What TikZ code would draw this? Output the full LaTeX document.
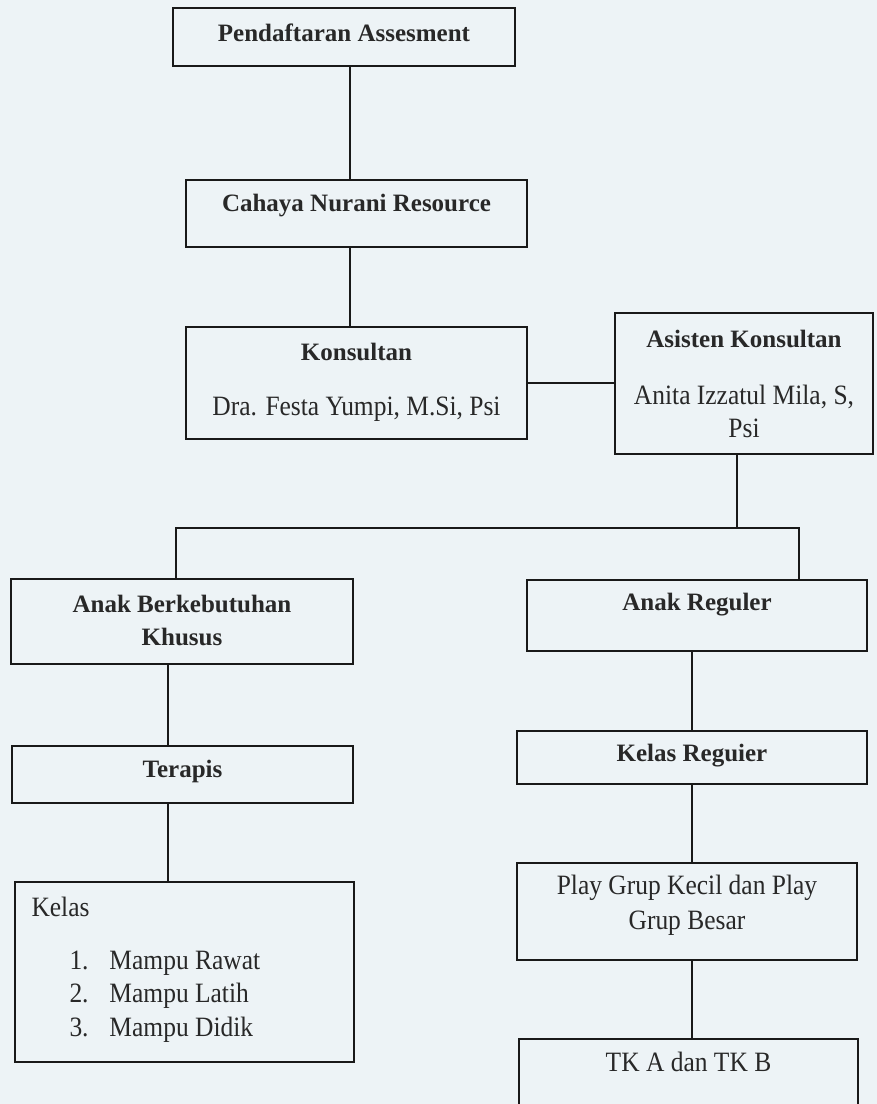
\documentclass[tikz,border=0pt]{standalone}
\usepackage{fontspec}
\setmainfont{Liberation Serif}
\newfontfamily\narrowserif{Liberation Serif}[FakeStretch=0.91]
\usepackage{xcolor}
\usepackage{tikz}
\usetikzlibrary{positioning}
\definecolor{paper}{RGB}{237,243,246}
\definecolor{inkgray}{RGB}{40,40,40}
\definecolor{linegray}{RGB}{25,25,25}

\tikzset{
  orgbox/.style={draw=linegray, line width=1.4pt, inner sep=0pt},
  titletext/.style={font=\fontsize{25}{30}\selectfont\bfseries, text=inkgray, inner sep=0pt, align=center},
  plaintext/.style={font=\narrowserif\fontsize{28}{33}\selectfont, text=inkgray, inner sep=0pt, align=center},
  link/.style={draw=linegray, line width=1.2pt},
}

\begin{document}
\begin{tikzpicture}[x=1pt, y=-1pt]
  \clip (0,0) rectangle (877,1104);
  \fill[paper] (0,0) rectangle (877,1104);

  % top chain
  \node[orgbox, minimum width=342pt, minimum height=58pt] (daftar) at (344,37) {};
  \node[titletext, yshift=4pt] (daftar-t) at (daftar.center) {Pendaftaran Assesment};
  \node[orgbox, minimum width=341pt, minimum height=67pt] (cnr) at (356.5,213.5) {};
  \node[titletext, yshift=8pt] (cnr-t) at (cnr.center) {Cahaya Nurani Resource};
  \node[orgbox, minimum width=341pt, minimum height=112pt] (kons) at (356.5,383) {};
  \node[titletext, yshift=31pt] (kons-t) at (kons.center) {Konsultan};
  \node[plaintext, yshift=-26pt] (kons-n) at (kons.center) {Dra. Festa Yumpi, M.Si, Psi};
  \node[orgbox, minimum width=258pt, minimum height=141pt] (asis) at (744,383.5) {};
  \node[titletext, yshift=44.5pt] (asis-t) at (asis.center) {Asisten Konsultan};
  \node[plaintext, yshift=-28pt] (asis-n) at (asis.center) {Anita Izzatul Mila, S,\\Psi};

  % left column
  \node[orgbox, minimum width=342pt, minimum height=85pt] (abk) at (182,621.5) {};
  \node[titletext, yshift=1pt, font=\fontsize{25}{33}\selectfont\bfseries] (abk-t) at (abk.center) {Anak Berkebutuhan\\Khusus};
  \node[orgbox, minimum width=341pt, minimum height=57pt] (terapis) at (182.5,774.5) {};
  \node[titletext, yshift=3.5pt] (terapis-t) at (terapis.center) {Terapis};
  \node[orgbox, minimum width=339pt, minimum height=180pt] (kelas) at (184.5,972) {};
  \node[plaintext, anchor=west, xshift=17pt, yshift=65pt] (kelas-t) at (kelas.west) {Kelas};
  \node[plaintext, align=left, anchor=west, xshift=55pt, yshift=-24.5pt,
        font=\narrowserif\fontsize{28}{33.5}\selectfont] (kelas-l) at (kelas.west)
    {\makebox[40pt][l]{1.}Mampu Rawat\\\makebox[40pt][l]{2.}Mampu Latih\\\makebox[40pt][l]{3.}Mampu Didik};

  % right column
  \node[orgbox, minimum width=340pt, minimum height=71pt] (areg) at (697,615.5) {};
  \node[titletext, yshift=10.5pt] (areg-t) at (areg.center) {Anak Reguler};
  \node[orgbox, minimum width=350pt, minimum height=53pt] (kreg) at (692,757.5) {};
  \node[titletext, yshift=1.5pt] (kreg-t) at (kreg.center) {Kelas Reguier};
  \node[orgbox, minimum width=340pt, minimum height=97pt] (play) at (687,911.5) {};
  \node[plaintext, yshift=6pt, font=\narrowserif\fontsize{28}{35}\selectfont] (play-t) at (play.center) {Play Grup Kecil dan Play\\Grup Besar};
  \node[orgbox, minimum width=339pt, minimum height=91pt] (tk) at (688.5,1084.5) {};
  \node[plaintext, yshift=-24pt] (tk-t) at (tk.north) {TK A dan TK B};

  % connectors
  \coordinate (spine) at (350,0);
  \draw[link] (daftar.south -| spine) -- (cnr.north -| spine);
  \draw[link] (cnr.south -| spine) -- (kons.north -| spine);
  \draw[link] (kons.east) -- (kons.east -| asis.west);
  \coordinate (busL) at (176,528);
  \coordinate (busR) at (799,528);
  \coordinate (asisdrop) at (737,528);
  \draw[link] (asis.south -| asisdrop) -- (asisdrop);
  \draw[link] (abk.north -| busL) -- (busL) -- (busR) -- (areg.north -| busR);
  \coordinate (colL) at (168,0);
  \draw[link] (abk.south -| colL) -- (terapis.north -| colL);
  \draw[link] (terapis.south -| colL) -- (kelas.north -| colL);
  \coordinate (colR) at (692,0);
  \draw[link] (areg.south -| colR) -- (kreg.north -| colR);
  \draw[link] (kreg.south -| colR) -- (play.north -| colR);
  \draw[link] (play.south -| colR) -- (tk.north -| colR);
\end{tikzpicture}
\end{document}
